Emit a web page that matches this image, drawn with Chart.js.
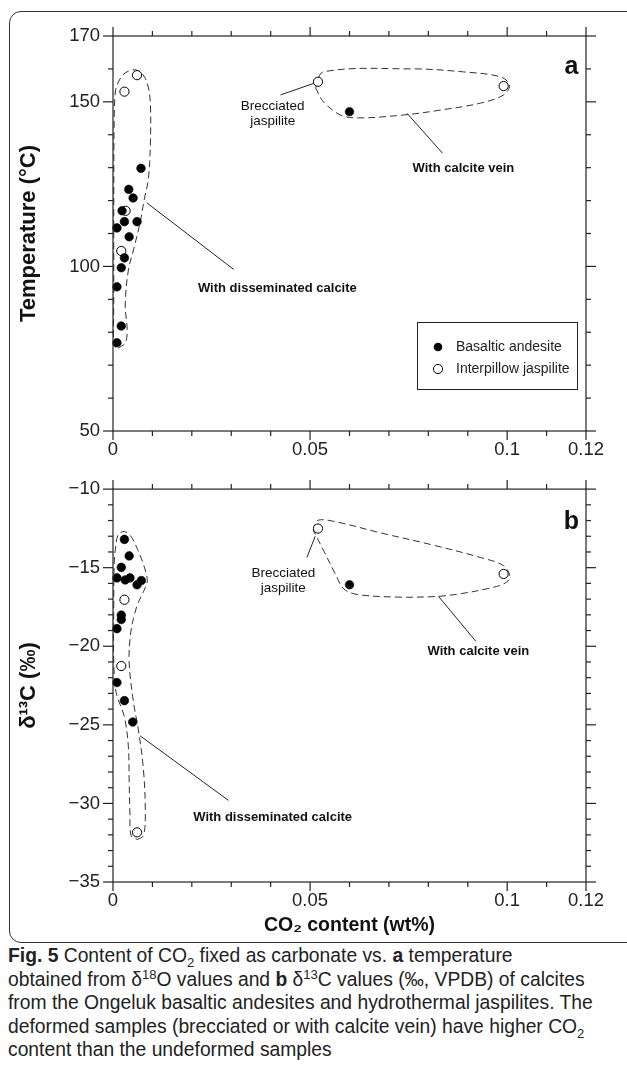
<!DOCTYPE html>
<html><head><meta charset="utf-8">
<script src="https://cdn.jsdelivr.net/npm/chart.js@4.4.0/dist/chart.umd.min.js"></script>
<style>
html,body{margin:0;padding:0;background:#fff;width:627px;height:1092px;overflow:hidden;position:relative;}
#frame{position:absolute;left:9px;top:11px;width:640px;height:932px;border:1px solid #333;border-radius:12px;box-sizing:border-box;}
#ca{position:absolute;left:0;top:0;}
#cb{position:absolute;left:0;top:465px;}
#caption{position:absolute;left:8px;top:944px;font-family:'Liberation Sans',Arial,sans-serif;font-size:19.3px;line-height:23.5px;color:#222;white-space:nowrap;}
#caption sub,#caption sup{font-size:13px;line-height:0;}
</style></head>
<body>
<div id="frame"></div>
<canvas id="ca" width="627" height="465"></canvas>
<canvas id="cb" width="627" height="475"></canvas>
<div id="caption"><b>Fig. 5</b> Content of CO<sub>2</sub> fixed as carbonate vs. <b>a</b> temperature<br>obtained from δ<sup>18</sup>O values and <b>b</b> δ<sup>13</sup>C values (‰, VPDB) of calcites<br>from the Ongeluk basaltic andesites and hydrothermal jaspilites. The<br>deformed samples (brecciated or with calcite vein) have higher CO<sub>2</sub><br>content than the undeformed samples</div>
<script>
// ---------- data ----------
const xTickLabels = [0, 0.05, 0.1, 0.12];
const xMinorTicks = [0,0.01,0.02,0.03,0.04,0.05,0.06,0.07,0.08,0.09,0.1,0.11,0.12];
const tempTickLabels = [50, 100, 150, 170];
const tempMinorTicks = [50,60,70,80,90,100,110,120,130,140,150,160,170];
const d13TickLabels = [-35,-30,-25,-20,-15,-10];
const d13MinorTicks = [-35,-34,-33,-32,-31,-30,-29,-28,-27,-26,-25,-24,-23,-22,-21,-20,-19,-18,-17,-16,-15,-14,-13,-12,-11,-10];

const basaltTemp = [
 {x:0.0071,y:129.8},{x:0.0040,y:123.4},{x:0.0051,y:120.8},{x:0.0023,y:116.9},
 {x:0.0029,y:113.6},{x:0.0061,y:113.6},{x:0.0010,y:111.7},{x:0.0041,y:109.0},
 {x:0.0029,y:102.6},{x:0.0021,y:99.6},{x:0.0010,y:93.8},{x:0.0021,y:81.9},
 {x:0.0010,y:76.8},{x:0.060,y:147.0}];
const jaspTemp = [
 {x:0.0061,y:158.1},{x:0.0029,y:153.1},{x:0.0032,y:116.9},{x:0.0021,y:104.7},
 {x:0.052,y:156.1},{x:0.0991,y:154.8}];
const basaltD13 = [
 {x:0.0029,y:-13.2},{x:0.0041,y:-14.25},{x:0.0021,y:-14.98},{x:0.0010,y:-15.65},
 {x:0.0031,y:-15.78},{x:0.0043,y:-15.65},{x:0.0072,y:-15.82},{x:0.0061,y:-16.09},
 {x:0.0021,y:-18.02},{x:0.0021,y:-18.3},{x:0.0010,y:-18.88},{x:0.0010,y:-22.31},
 {x:0.0029,y:-23.46},{x:0.0050,y:-24.82},{x:0.060,y:-16.09}];
const jaspD13 = [
 {x:0.0029,y:-17.04},{x:0.0021,y:-21.26},{x:0.0061,y:-31.84},
 {x:0.052,y:-12.51},{x:0.0991,y:-15.4}];

// dashed envelopes (outline vertices)
const envTempDissem = [
 {x:0.00135,y:75.2},{x:0.0031,y:76.7},{x:0.0036,y:80.6},{x:0.0031,y:88.2},{x:0.0039,y:98.9},
 {x:0.0052,y:105},{x:0.0069,y:113.5},{x:0.0079,y:120.2},{x:0.0090,y:126.8},{x:0.0095,y:138.4},
 {x:0.0095,y:149},{x:0.0090,y:154.2},{x:0.0077,y:158.1},{x:0.0057,y:159.7},{x:0.0031,y:158.8},
 {x:0.00135,y:156},{x:0.0006,y:153},{x:0.0003,y:144.5},{x:0.0002,y:120.2},{x:0.0002,y:89.8},
 {x:0.0002,y:76.1},{x:0.00135,y:75.2}];
const envTempVein = [
 {x:0.0514,y:154.2},{x:0.0534,y:159.1},{x:0.0762,y:160},{x:0.0889,y:159.1},{x:0.0983,y:157.6},
 {x:0.1006,y:155.1},{x:0.0991,y:152.1},{x:0.0932,y:149.6},{x:0.0831,y:147.5},{x:0.0737,y:146},
 {x:0.062,y:145.1},{x:0.0577,y:146},{x:0.0534,y:150},{x:0.0514,y:154.2}];
const envD13Dissem = [
 {x:0.0062,y:-32.30},{x:0.0077,y:-32.05},{x:0.0082,y:-30.67},{x:0.0077,y:-27.78},{x:0.0064,y:-25.26},
 {x:0.0052,y:-23.57},{x:0.0041,y:-21.06},{x:0.0044,y:-19.30},{x:0.0052,y:-18.23},{x:0.0062,y:-17.35},
 {x:0.0077,y:-16.53},{x:0.0087,y:-15.84},{x:0.0077,y:-14.77},{x:0.0062,y:-13.83},{x:0.0046,y:-13.02},
 {x:0.0029,y:-12.70},{x:0.00135,y:-12.89},{x:0.0006,y:-13.83},{x:0.0003,y:-14.77},{x:0.0002,y:-17.29},
 {x:0.0002,y:-21.06},{x:0.0008,y:-22.94},{x:0.0029,y:-24.51},{x:0.0039,y:-26.39},{x:0.0041,y:-28.59},
 {x:0.0043,y:-30.67},{x:0.0046,y:-32.05},{x:0.0062,y:-32.30}];
const envD13Vein = [
 {x:0.0509,y:-12.68},{x:0.0518,y:-12.01},{x:0.056,y:-12.05},{x:0.0678,y:-12.78},{x:0.0805,y:-13.52},
 {x:0.0932,y:-14.35},{x:0.0991,y:-14.88},{x:0.1007,y:-15.61},{x:0.0991,y:-16.03},{x:0.0949,y:-16.34},
 {x:0.0881,y:-16.66},{x:0.0822,y:-16.83},{x:0.0721,y:-16.87},{x:0.0619,y:-16.70},{x:0.0585,y:-16.34},
 {x:0.0564,y:-15.40},{x:0.0535,y:-13.94},{x:0.0509,y:-12.68}];

// leader lines
const leadTempDissem = [{x:0.0086,y:119.3},{x:0.0306,y:99.1}];
const leadTempVein = [{x:0.0746,y:146.5},{x:0.0836,y:134.4}];
const leadTempBrec = [{x:0.0425,y:152.1},{x:0.0509,y:155.6}];
const leadD13Dissem = [{x:0.0069,y:-25.70},{x:0.0293,y:-29.81}];
const leadD13Vein = [{x:0.0826,y:-16.83},{x:0.092,y:-19.67}];
const leadD13Brec = [{x:0.0492,y:-14.35},{x:0.0513,y:-13.0}];

// text labels
const labelsTemp = [
 {lines:['Brecciated','jaspilite'], x:0.0405, y:146.3, bold:false, size:13.5},
 {lines:['With calcite vein'], x:0.0889, y:129.9, bold:true, size:13},
 {lines:['With disseminated calcite'], x:0.0417, y:93.4, bold:true, size:13},
 {lines:['a'], x:0.1163, y:160.6, bold:true, size:25}];
const labelsD13 = [
 {lines:['Brecciated','jaspilite'], x:0.0432, y:-15.84, bold:false, size:13.5},
 {lines:['With calcite vein'], x:0.0927, y:-20.3, bold:true, size:13},
 {lines:['With disseminated calcite'], x:0.0405, y:-30.92, bold:true, size:13},
 {lines:['b'], x:0.1163, y:-12.07, bold:true, size:25}];

const seriesNames = ['Basaltic andesite', 'Interpillow jaspilite'];

// ---------- drawing ----------
const F = "'Liberation Sans', Arial, Helvetica, sans-serif";

const framePlugin = {
  id: 'framePlugin',
  afterDraw(chart, args, o) {
    const ctx = chart.ctx, a = chart.chartArea, xs = chart.scales.x, ys = chart.scales.y;
    ctx.save();
    ctx.strokeStyle = '#222'; ctx.lineWidth = 1.2;
    ctx.strokeRect(a.left, a.top, a.right - a.left, a.bottom - a.top);
    const seg = (x1,y1,x2,y2) => { ctx.beginPath(); ctx.moveTo(x1,y1); ctx.lineTo(x2,y2); ctx.stroke(); };
    o.xMinor.forEach(v => {
      const p = xs.getPixelForValue(v), L = o.xMajor.includes(v) ? 9 : 5;
      seg(p, a.bottom, p, a.bottom + L); seg(p, a.top, p, a.top - L);
    });
    o.yMinor.forEach(v => {
      const p = ys.getPixelForValue(v), L = o.yMajor.includes(v) ? 10 : 5;
      seg(a.left, p, a.left - L, p); seg(a.right, p, a.right + L, p);
    });
    // text labels
    ctx.fillStyle = '#111'; ctx.textAlign = 'center'; ctx.textBaseline = 'middle';
    o.labels.forEach(l => {
      ctx.font = (l.bold ? 'bold ' : '') + l.size + 'px ' + F;
      const cx = xs.getPixelForValue(l.x), cy = ys.getPixelForValue(l.y);
      const lh = l.size * 1.08, n = l.lines.length;
      l.lines.forEach((t, i) => ctx.fillText(t, cx, cy + (i - (n - 1) / 2) * lh));
    });
    // legend
    if (o.legend) {
      const bx = a.right - 169, by = a.top + 286, bw = 160, bh = 67;
      ctx.fillStyle = '#fff'; ctx.fillRect(bx, by, bw, bh);
      ctx.strokeStyle = '#222'; ctx.lineWidth = 1; ctx.strokeRect(bx + 0.5, by + 0.5, bw, bh);
      ctx.font = '14px ' + F; ctx.textAlign = 'left';
      const rows = [by + 25, by + 47];
      ctx.beginPath(); ctx.arc(bx + 21, rows[0], 4.3, 0, Math.PI * 2); ctx.fillStyle = '#000'; ctx.fill();
      ctx.beginPath(); ctx.arc(bx + 21, rows[1], 4.6, 0, Math.PI * 2); ctx.fillStyle = '#fff'; ctx.fill();
      ctx.strokeStyle = '#000'; ctx.stroke();
      ctx.fillStyle = '#222';
      ctx.fillText(seriesNames[0], bx + 39, rows[0]);
      ctx.fillText(seriesNames[1], bx + 39, rows[1]);
    }
    ctx.restore();
  }
};

function envelope(data) {
  return {type:'line', data, borderColor:'#333', borderWidth:1, borderDash:[7,4], pointRadius:0,
    tension:0.35, fill:false, order:5, clip:false};
}
function leader(data) {
  return {type:'line', data, borderColor:'#222', borderWidth:1, pointRadius:0, tension:0, fill:false, order:4, clip:false};
}
function points(data, filled, name) {
  return {type:'scatter', label:name, data, pointRadius: filled ? 4.3 : 4.6,
    backgroundColor: filled ? '#000' : '#fff', borderColor:'#000', borderWidth: filled ? 0.6 : 1,
    order: filled ? 1 : 2, clip:false};
}
const minusFmt = v => v < 0 ? '\u2212' + Math.abs(v) : String(v);

function makeChart(id, cfg) {
  return new Chart(document.getElementById(id), {
    type: 'scatter',
    data: { datasets: cfg.datasets },
    options: {
      responsive:false, animation:false, events:[],
      layout: { padding: { top: cfg.padTop, right: 41, left: 0, bottom: 0 } },
      plugins: { legend:{display:false}, tooltip:{enabled:false}, framePlugin: cfg.frame },
      scales: {
        x: { type:'linear', min:0, max:0.12,
          afterBuildTicks: s => { s.ticks = xTickLabels.map(v => ({value:v})); },
          afterFit: s => { s.height = cfg.xHeight; },
          grid:{display:false, drawTicks:false}, border:{display:false},
          ticks:{ padding:8, color:'#222', font:{size:18.5, family:F}, maxRotation:0, autoSkip:false,
            callback: v => String(v) },
          title: cfg.xTitle },
        y: { type:'linear', min:cfg.yMin, max:cfg.yMax,
          afterBuildTicks: s => { s.ticks = cfg.yTicks.map(v => ({value:v})); },
          afterFit: s => { s.width = 113; },
          grid:{display:false, drawTicks:false}, border:{display:false},
          ticks:{ padding:13, color:'#222', font:{size:18.5, family:F}, autoSkip:false, callback: minusFmt },
          title: { display:true, text: cfg.yTitle, color:'#111', font:{size:22, weight:'bold', family:F},
            padding:{top:16, bottom:0} } }
      }
    },
    plugins: [framePlugin]
  });
}

makeChart('ca', {
  padTop: 36, xHeight: 34, yMin: 50, yMax: 170, yTicks: tempTickLabels, yTitle: 'Temperature (°C)',
  xTitle: { display:false },
  datasets: [points(basaltTemp, true, seriesNames[0]), points(jaspTemp, false, seriesNames[1]),
    envelope(envTempDissem), envelope(envTempVein),
    leader(leadTempDissem), leader(leadTempVein), leader(leadTempBrec)],
  frame: { xMinor: xMinorTicks, xMajor: xTickLabels, yMinor: tempMinorTicks, yMajor: tempTickLabels,
    labels: labelsTemp, legend: true }
});

makeChart('cb', {
  padTop: 19, xHeight: 58, yMin: -35, yMax: -10, yTicks: d13TickLabels, yTitle: 'δ¹³C (‰)',
  xTitle: { display:true, text:'CO₂ content (wt%)', color:'#111', font:{size:19.5, weight:'bold', family:F},
    padding:{top:0, bottom:3} },
  datasets: [points(basaltD13, true, seriesNames[0]), points(jaspD13, false, seriesNames[1]),
    envelope(envD13Dissem), envelope(envD13Vein),
    leader(leadD13Dissem), leader(leadD13Vein), leader(leadD13Brec)],
  frame: { xMinor: xMinorTicks, xMajor: xTickLabels, yMinor: d13MinorTicks, yMajor: d13TickLabels,
    labels: labelsD13, legend: false }
});
</script>
</body></html>
